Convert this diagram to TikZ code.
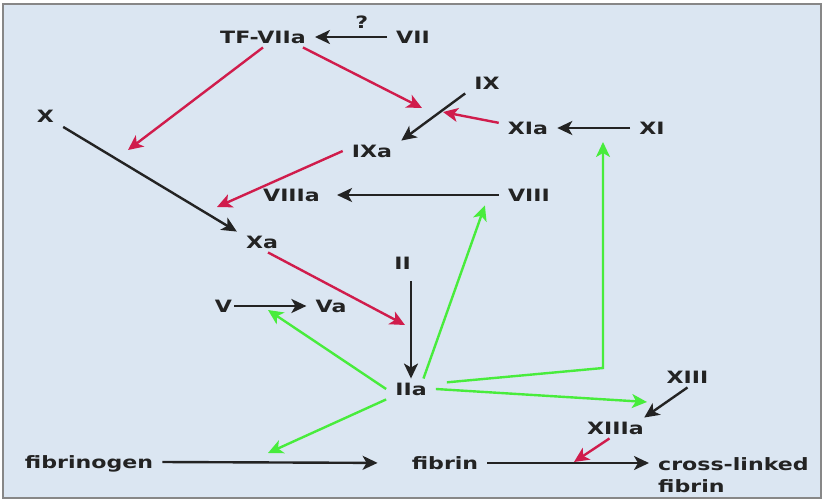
\documentclass[tikz,border=0pt]{standalone}
\usepackage{fontspec}
\setmainfont{DejaVu Sans}[FakeStretch=1.3]
\usetikzlibrary{arrows.meta}
\definecolor{bgblue}{RGB}{219,230,242}
\definecolor{framegray}{RGB}{135,135,135}
\definecolor{ink}{RGB}{35,35,35}
\definecolor{actred}{RGB}{208,28,76}
\definecolor{thrgreen}{RGB}{72,236,60}

\begin{document}
\begin{tikzpicture}[x=1pt, y=-1pt,
    every node/.style={font=\fontsize{17}{21}\selectfont\bfseries, text=ink},
    fac/.style={inner xsep=9pt, inner ysep=3pt, text height=13.5pt, text depth=1pt},
    conv/.style={ink, line width=2.4pt, -{Stealth[length=15pt, width=14pt, inset=4pt]}},
    act/.style={conv, actred},
    thr/.style={conv, thrgreen}]
	% 背景与边框
	\useasboundingbox (0,0) rectangle (825,501);
	\fill[white] (0,0) rectangle (825,501);
	\draw[framegray, fill=bgblue, line width=1.5pt] (3,4) rectangle (821,498);
	
	% 凝血因子
	\node[fac] (TF) at (263,37) {TF-VIIa};
	\node[fac] (VII) at (413,37) {VII};
	\node[fac] (IX) at (487,83) {IX};
	\node[fac] (X) at (45.5,116.5) {X};
	\node[fac] (XIa) at (528,128) {XIa};
	\node[fac] (XI) at (652,128) {XI};
	\node[fac] (IXa) at (372,151) {IXa};
	\node[fac] (VIIIa) at (291.5,195) {VIIIa};
	\node[fac] (VIII) at (529,195) {VIII};
	\node[fac] (Xa) at (262,242) {Xa};
	\node[fac] (II) at (402.5,263.5) {II};
	\node[fac] (V) at (223.5,306) {V};
	\node[fac] (Va) at (331,306) {Va};
	\node[fac] (IIa) at (411,389) {IIa};
	\node[fac] (XIII) at (687.5,377) {XIII};
	\node[fac] (XIIIa) at (615.5,428) {XIIIa};
	\node[fac] (fibrinogen) at (89,462) {fibrinogen};
	\node[fac] (fibrin) at (445,463) {fibrin};
	\node[inner xsep=9pt, anchor=base west, align=left,
	      font=\fontsize{17}{22}\selectfont\bfseries] (cross) at (649,492) {cross-linked\\fibrin};
	
	% 箭头所指的位置
	\coordinate (c1) at (128,150);
	\coordinate (c2) at (422,108);
	\coordinate (c3) at (443,112);
	\coordinate (c4) at (217,207);
	\coordinate (c5) at (405,325);
	\coordinate (c6) at (268,310);
	\coordinate (kink) at (603,368);
	\coordinate (c8) at (603,142);
	\coordinate (c9) at (647,402);
	\coordinate (c10) at (268,453);
	\coordinate (c11) at (574,462);
	
	% 转化 (黑色)
	\draw[conv] (VII.west) -- node[pos=0.35, above=6pt, inner sep=1pt] (qm) {?} (TF.east);
	\draw[conv] (IX.south west) -- (IXa.north east);
	\draw[conv] (XI.west) -- (XIa.east);
	\draw[conv] (X.south east) -- (Xa.north west);
	\draw[conv, shorten >=8pt] (VIII.west) -- (VIIIa.east);
	\draw[conv, shorten <=-7pt] (V.east) -- (Va.west);
	\draw[conv, shorten <=7pt] (II.south -| IIa.north) -- (IIa.north);
	\draw[conv] (XIII.south) -- (XIIIa.20);
	\draw[conv, shorten >=25pt] (fibrinogen.east) -- (fibrin.west);
	\draw[conv] (fibrin.east) -- (fibrin.east -| cross.west);
	
	% 催化 (红色)
	\draw[act] (TF.south) -- (c1);
	\draw[act] ([xshift=-12pt]TF.south east) -- (c2);
	\draw[act] (XIa.170) -- (c3);
	\draw[act] (IXa.west) -- (c4);
	\draw[act] (Xa.-60) -- (c5);
	\draw[act] (XIIIa.-120) -- (c11);
	
	% 凝血酶的作用 (绿色)
	\draw[thr] (IIa.west) -- (c6);
	\draw[thr] (IIa.40) -- ([xshift=-14pt]VIII.south west);
	\draw[thr] ([xshift=11pt]IIa.15) -- (kink) -- (c8);
	\draw[thr] (IIa.east) -- (c9);
	\draw[thr] (IIa.south west) -- (c10);
\end{tikzpicture}
\end{document}
